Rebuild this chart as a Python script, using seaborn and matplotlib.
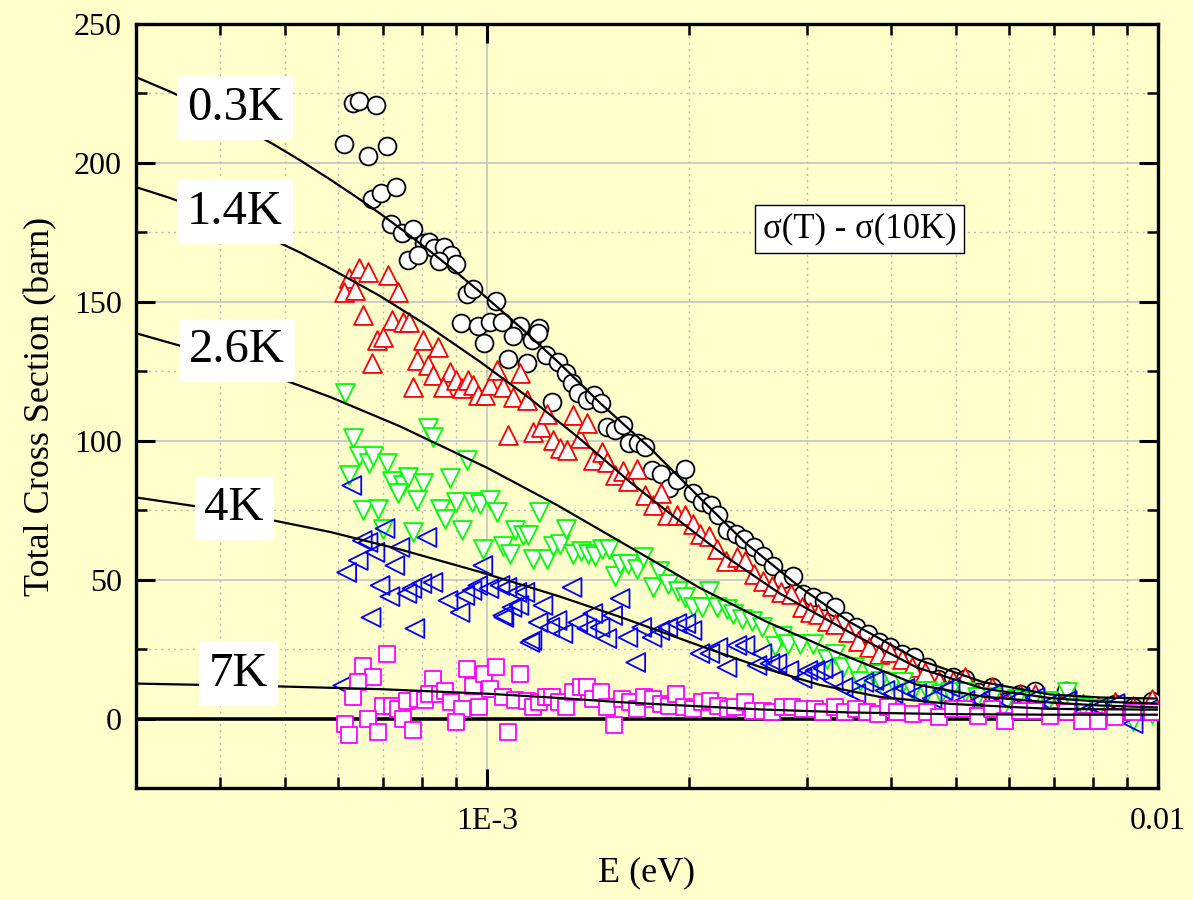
import matplotlib
matplotlib.use("Agg")
import matplotlib.pyplot as plt
import seaborn as sns
import numpy as np
import pandas as pd
from matplotlib.ticker import LogLocator, MultipleLocator, NullFormatter

# energies are in units of 1E-3 eV, cross sections in barn
e_03k = [0.632, 0.645, 0.683, 0.612, 0.664, 0.710, 0.674, 0.695, 0.732, 0.719, 0.747, 0.776,
         0.805, 0.819, 0.834, 0.863, 0.884, 0.763, 0.789, 0.848, 0.899, 0.933, 0.952, 1.031,
         0.915, 0.970, 1.010, 1.052, 1.120, 1.196, 0.990, 1.075, 1.147, 1.094, 1.168, 1.192,
         1.224, 1.276, 1.311, 1.339, 1.366, 1.409, 1.443, 1.478, 1.250, 1.509, 1.551, 1.594,
         1.627, 1.678, 1.719, 1.762, 1.816, 1.867, 1.919, 1.972, 2.028, 2.091, 2.157, 2.209,
         2.279, 2.350, 2.415, 2.500, 2.578, 2.668, 2.761, 2.857, 2.959, 3.061, 3.179, 3.303,
         3.422, 3.546, 3.696, 3.838, 3.986, 4.153, 4.326, 4.525, 4.698, 4.948, 5.156, 5.392,
         5.657, 5.916, 6.227, 6.556, 6.950, 7.29, 7.70, 8.14, 8.63, 9.18, 9.80]
s_03k = [221.5, 222.3, 220.8, 206.8, 202.4, 206.1, 187.0, 189.1, 191.3, 178.0, 174.7, 176.2,
         171.1, 171.5, 169.3, 169.7, 166.8, 165.0, 166.8, 164.6, 163.5, 152.7, 154.5, 150.2,
         142.3, 141.2, 142.7, 142.7, 141.2, 140.5, 135.1, 129.3, 127.9, 137.6, 136.2, 138.7,
         130.8, 128.2, 124.3, 120.7, 117.1, 114.6, 116.4, 113.5, 113.8, 104.8, 103.7, 105.5,
         99.1, 99.1, 97.6, 89.3, 87.9, 82.9, 85.7, 89.7, 81.1, 77.8, 76.7, 73.1,
         67.7, 66.6, 64.8, 61.6, 58.7, 55.1, 50.4, 51.2, 44.7, 43.6, 42.5, 40.0,
         35.3, 32.8, 30.6, 27.4, 25.6, 23.4, 22.0, 18.7, 14.4, 15.1, 14.4, 9.4,
         11.2, 5.8, 9.0, 10.1, 6.5, 10.1, 3.6, 3.6, 5.4, 4.0, 6.5]

e_14k = [0.623, 0.645, 0.665, 0.712, 0.612, 0.636, 0.737, 0.654, 0.722, 0.750, 0.765, 0.685,
         0.699, 0.803, 0.845, 0.674, 0.787, 0.816, 0.831, 0.776, 0.881, 0.860, 0.899, 0.918,
         0.937, 0.953, 0.969, 0.993, 1.010, 1.035, 1.056, 1.093, 1.120, 1.147, 1.075, 1.171,
         1.204, 1.229, 1.254, 1.285, 1.316, 1.343, 1.376, 1.409, 1.438, 1.483, 1.509, 1.551,
         1.594, 1.622, 1.672, 1.719, 1.767, 1.816, 1.854, 1.919, 1.972, 2.028, 2.077, 2.142,
         2.201, 2.272, 2.358, 2.424, 2.500, 2.578, 2.659, 2.742, 2.838, 2.949, 3.029, 3.113,
         3.211, 3.303, 3.450, 3.571, 3.708, 3.838, 3.986, 4.153, 4.298, 4.494, 4.715, 4.948,
         5.156, 5.392, 5.657, 5.957, 6.227, 6.556, 6.902, 7.32, 7.73, 8.14, 8.63, 9.18, 9.80]
s_14k = [158.5, 162.1, 160.7, 159.6, 153.5, 154.2, 153.5, 145.2, 143.4, 142.7, 142.7, 136.2,
         137.2, 136.2, 133.6, 127.9, 129.0, 127.2, 123.6, 119.2, 124.6, 119.2, 121.8, 118.9,
         121.8, 120.0, 116.4, 116.4, 120.0, 125.4, 119.2, 115.6, 124.3, 114.6, 101.9, 103.0,
         104.8, 109.5, 100.1, 97.3, 96.5, 109.1, 100.9, 106.3, 92.9, 95.8, 92.2, 87.5,
         89.0, 85.4, 89.7, 80.3, 76.7, 81.1, 73.1, 73.1, 73.1, 70.2, 66.3, 65.6,
         61.2, 56.9, 58.0, 56.9, 51.9, 49.4, 47.9, 45.4, 45.0, 40.3, 38.2, 37.8,
         35.3, 34.2, 31.0, 28.1, 25.6, 23.4, 23.8, 21.6, 18.4, 16.6, 13.7, 13.7,
         14.8, 9.0, 11.2, 5.4, 9.0, 9.0, 6.5, 9.0, 5.4, 4.0, 5.8, 4.7, 7.2]

e_26k = [0.614, 0.632, 0.645, 0.667, 0.676, 0.710, 0.623, 0.816, 0.831, 0.933, 0.722, 0.750,
         0.763, 0.737, 0.803, 0.881, 0.787, 0.654, 0.688, 0.851, 0.866, 0.899, 0.950, 0.976,
         1.010, 1.035, 1.196, 0.699, 0.776, 0.918, 0.986, 1.056, 1.082, 1.101, 1.131, 1.151,
         1.171, 1.229, 1.254, 1.285, 1.311, 1.343, 1.381, 1.414, 1.448, 1.483, 1.519, 1.551,
         1.579, 1.622, 1.672, 1.707, 1.767, 1.804, 1.860, 1.926, 1.972, 2.028, 2.091, 2.142,
         2.201, 2.279, 2.326, 2.399, 2.483, 2.569, 2.686, 2.752, 2.808, 2.927, 3.061, 3.211,
         3.303, 3.394, 3.521, 3.596, 3.760, 3.851, 4.027, 4.167, 4.312, 4.525, 4.748, 4.898,
         5.156, 5.374, 5.657, 5.875, 6.164, 6.489, 6.855, 7.32, 7.73, 8.14, 8.69, 9.18, 9.80]
s_26k = [117.1, 100.9, 94.4, 91.9, 94.4, 91.9, 87.5, 104.5, 101.2, 92.9, 85.4, 83.9,
         86.8, 81.1, 84.7, 86.5, 78.5, 74.9, 75.6, 75.6, 72.0, 77.8, 77.8, 77.4,
         78.5, 74.2, 74.2, 68.4, 67.0, 67.7, 61.2, 62.0, 59.1, 67.7, 65.9, 65.9,
         57.6, 57.6, 62.0, 63.0, 68.1, 59.4, 60.2, 59.1, 58.4, 60.9, 61.2, 51.5,
         55.8, 55.8, 54.0, 58.0, 47.2, 53.3, 48.6, 46.1, 43.6, 40.0, 40.0, 46.1,
         40.0, 39.6, 37.8, 36.0, 35.3, 32.8, 26.3, 29.9, 27.0, 27.0, 27.0, 21.6,
         23.4, 18.4, 18.4, 13.7, 16.2, 13.7, 13.0, 13.0, 10.1, 10.1, 9.0, 9.4,
         9.4, 7.6, 7.6, 4.0, 7.2, 6.5, 6.5, 9.4, 4.0, 3.6, 4.0, -0.7, 1.8]

e_4k = [0.629, 0.705, 0.814, 0.652, 0.665, 0.681, 0.742, 0.643, 0.729, 0.618, 0.986, 0.693,
        0.717, 0.760, 0.773, 0.800, 0.831, 0.875, 0.927, 0.950, 0.969, 1.007, 1.071, 1.108,
        1.139, 0.912, 0.672, 0.781, 1.056, 1.090, 1.212, 1.339, 1.579, 1.192, 1.272, 1.298,
        1.366, 1.438, 1.474, 1.539, 1.509, 1.159, 0.610, 1.046, 1.116, 1.060, 1.241, 1.167,
        1.409, 1.622, 1.701, 1.762, 1.810, 1.860, 1.919, 1.979, 2.021, 1.666, 2.077, 2.149,
        2.209, 2.279, 2.358, 2.424, 2.526, 2.569, 2.641, 2.705, 2.818, 2.949, 3.008, 3.082,
        3.168, 3.280, 3.394, 3.546, 3.646, 3.773, 3.918, 4.027, 4.196, 4.371, 4.605, 4.782,
        4.898, 5.156, 5.429, 5.677, 5.916, 6.227, 6.556, 6.902, 7.32, 7.73, 8.14, 8.63, 9.18, 9.80]
s_4k = [83.9, 68.4, 65.2, 64.1, 63.4, 59.8, 61.6, 56.9, 55.1, 52.6, 55.1, 47.9,
        43.9, 45.0, 46.8, 48.6, 49.0, 42.5, 44.3, 46.1, 47.9, 46.8, 47.2, 45.4,
        45.4, 38.2, 36.4, 32.4, 37.1, 40.0, 40.7, 47.2, 43.2, 34.6, 35.3, 30.6,
        34.6, 37.8, 32.8, 37.1, 28.8, 27.4, 11.9, 47.9, 40.7, 36.4, 32.8, 28.1,
        32.4, 29.2, 32.8, 29.2, 31.7, 32.8, 34.2, 34.2, 31.7, 20.2, 23.4, 23.4,
        25.6, 18.4, 26.3, 26.3, 19.1, 23.4, 19.8, 19.8, 17.3, 14.4, 17.3, 17.3,
        18.0, 13.7, 11.2, 9.0, 13.0, 13.7, 10.1, 9.0, 10.8, 9.0, 7.2, 10.1,
        11.2, 6.5, 6.5, 9.0, 6.5, 7.6, 7.6, 5.4, 6.5, 2.2, 4.0, 5.4, -1.8, 4.0]

e_7k = [0.710, 0.654, 0.676, 0.643, 0.632, 0.699, 0.722, 0.737, 0.760, 0.789, 0.808, 0.831,
        0.819, 0.851, 0.866, 0.884, 0.918, 0.933, 0.953, 0.990, 1.031, 1.010, 0.973, 1.056,
        1.101, 1.120, 1.147, 1.171, 1.196, 1.224, 1.250, 1.281, 1.311, 1.343, 1.381, 1.409,
        1.438, 1.478, 1.509, 1.589, 0.614, 0.623, 0.665, 0.688, 0.750, 0.776, 0.899, 1.075,
        1.546, 1.633, 1.672, 1.713, 1.767, 1.816, 1.867, 1.913, 1.966, 2.028, 2.091, 2.149,
        2.209, 2.287, 2.342, 2.424, 2.491, 2.578, 2.659, 2.761, 2.848, 2.959, 3.082, 3.168,
        3.303, 3.422, 3.546, 3.683, 3.825, 3.958, 4.084, 4.312, 4.525, 4.715, 4.948, 5.156,
        5.392, 5.657, 5.916, 6.227, 6.556, 6.902, 7.32, 7.70, 8.14, 8.63, 9.18, 9.80]
s_7k = [23.4, 19.1, 15.1, 13.0, 7.6, 4.7, 4.7, 3.6, 6.5, 7.2, 6.8, 14.4,
        9.0, 9.0, 10.1, 5.8, 3.6, 17.7, 11.9, 16.2, 18.4, 10.8, 4.0, 7.6,
        6.8, 15.9, 6.5, 4.3, 6.1, 7.6, 7.6, 5.8, 4.0, 9.4, 11.5, 11.2,
        7.2, 9.4, 4.0, 7.2, -1.8, -5.8, 0.0, -4.7, 0.0, -4.0, -1.1, -5.0,
        -2.2, 5.8, 3.6, 7.6, 7.2, 5.4, 4.7, 9.0, 4.0, 3.6, 5.8, 6.5,
        4.7, 3.6, 4.0, 5.8, 2.9, 2.9, 2.2, 4.0, 4.0, 3.6, 3.6, 2.2,
        4.0, 2.2, 3.6, 2.2, 1.8, 4.0, 2.2, 1.8, 2.2, 0.4, 3.6, 3.6,
        1.1, 3.6, -0.7, 2.9, 2.9, 1.1, 2.2, -0.7, -0.7, 0.4, 2.2, 2.2]

# fitted curves
fit_e_03k = [0.300, 0.337, 0.3735, 0.4224, 0.480, 0.5264, 0.5834, 0.6357, 0.693, 0.7548,
             0.822, 0.896, 0.976, 1.127, 1.285, 1.474, 1.750, 2.077, 2.421, 2.927, 3.475,
             4.37, 5.49, 6.90, 8.20, 10.0]
fit_s_03k = [230.9, 225.7, 220.7, 214.2, 206.8, 201.0, 194.1, 188.1, 181.8, 175.2,
             168.3, 161.1, 153.6, 140.4, 127.7, 113.6, 97.4, 79.4, 63.5, 47.3, 34.7,
             21.4, 13.1, 8.7, 7.6, 7.2]
fit_e_14k = [0.300, 0.337, 0.3735, 0.4224, 0.4866, 0.5264, 0.5834, 0.693, 0.817, 0.976,
             1.159, 1.376, 1.633, 1.939, 2.279, 2.733, 3.475, 4.37, 5.49, 6.90, 8.20, 10.0]
fit_s_14k = [191.3, 187.4, 183.4, 178.3, 171.7, 167.8, 162.1, 152.1, 141.3, 128.5,
             115.2, 100.7, 85.2, 71.0, 58.0, 45.0, 31.0, 18.4, 10.8, 7.4, 6.1, 5.4]
fit_e_26k = [0.300, 0.3735, 0.4589, 0.5834, 0.742, 1.0, 1.271, 1.633, 2.077, 2.614, 3.280,
             4.37, 5.49, 6.90, 8.20, 10.0]
fit_s_26k = [138.7, 132.2, 125.1, 115.8, 105.2, 90.3, 76.9, 61.7, 47.0, 34.8, 24.4,
             12.2, 7.9, 5.8, 4.7, 4.0]
fit_e_4k = [0.300, 0.3735, 0.4589, 0.5834, 0.742, 0.976, 1.285, 1.579, 2.077, 2.552, 3.135,
            3.851, 4.898, 6.90, 10.0]
fit_s_4k = [79.6, 76.2, 72.3, 67.2, 60.9, 52.8, 43.9, 36.6, 26.2, 18.6, 12.1,
            7.8, 5.3, 3.5, 3.2]
fit_e_7k = [0.300, 0.4866, 0.693, 1.010, 1.285, 1.579, 2.077, 2.552, 3.475, 4.898, 6.90, 10.0]
fit_s_7k = [12.6, 11.6, 10.6, 8.9, 7.4, 5.9, 4.4, 3.3, 2.2, 1.6, 1.4, 1.4]

temps = ["0.3K", "1.4K", "2.6K", "4K", "7K"]
points = [(e_03k, s_03k), (e_14k, s_14k), (e_26k, s_26k), (e_4k, s_4k), (e_7k, s_7k)]
fits = [(fit_e_03k, fit_s_03k), (fit_e_14k, fit_s_14k), (fit_e_26k, fit_s_26k),
        (fit_e_4k, fit_s_4k), (fit_e_7k, fit_s_7k)]

df = pd.concat([pd.DataFrame({"T": t, "E": np.array(e) * 1e-3, "sigma": s})
                for t, (e, s) in zip(temps, points)])
fit_df = pd.concat([pd.DataFrame({"T": t, "E": np.array(e) * 1e-3, "sigma": s})
                    for t, (e, s) in zip(temps, fits)])

bg = "#FFFFCC"
sns.set_style("ticks")
plt.rcParams["font.family"] = ["Liberation Serif", "DejaVu Serif"]
plt.rcParams["text.color"] = "black"
plt.rcParams["axes.labelcolor"] = "black"

fig = plt.figure(figsize=(11.93, 9), dpi=100, facecolor=bg)
ax = fig.add_axes([0.114, 0.1244, 0.8567, 0.8489])
ax.set_facecolor(bg)
ax.set_xscale("log")

marker_styles = {
    "0.3K": dict(marker="o", s=165, facecolor="white", edgecolor="black"),
    "1.4K": dict(marker="^", s=185, facecolor="white", edgecolor="#FF0000"),
    "2.6K": dict(marker="v", s=185, facecolor="white", edgecolor="#00FF00"),
    "4K": dict(marker="<", s=185, facecolor="none", edgecolor="#0000FF"),
    "7K": dict(marker="s", s=125, facecolor="white", edgecolor="#FF00FF"),
}

ax.axhline(0, color="black", lw=2.6, zorder=2)

for t in temps:
    sns.scatterplot(data=df[df["T"] == t], x="E", y="sigma", linewidth=1.3,
                    ax=ax, zorder=3, legend=False, **marker_styles[t])

for t in temps:
    sns.lineplot(data=fit_df[fit_df["T"] == t], x="E", y="sigma", color="black",
                 linewidth=1.6, estimator=None, sort=False, ax=ax, zorder=4)

ax.set_xlim(3.0e-4, 1e-2)
ax.set_ylim(-25, 250)
ax.set_xticks([1e-3, 1e-2])
ax.set_xticklabels(["1E-3", "0.01"])
ax.xaxis.set_minor_locator(LogLocator(base=10, subs=np.arange(2, 10)))
ax.xaxis.set_minor_formatter(NullFormatter())
ax.set_yticks(np.arange(0, 251, 50))
ax.yaxis.set_minor_locator(MultipleLocator(25))

ax.tick_params(which="major", direction="in", length=14, width=2.2, top=True, right=True,
               labelsize=23, pad=10, colors="black")
ax.tick_params(which="minor", direction="in", length=8, width=1.8, top=True, right=True,
               colors="black")
ax.tick_params(axis="x", which="major", pad=14)

ax.grid(which="major", color="#C2C2CC", lw=1.2, ls="-")
ax.grid(which="minor", color="#B8B8B8", lw=1.0, ls=(0, (1.5, 3)))
ax.set_axisbelow(True)

for sp in ax.spines.values():
    sp.set_linewidth(2.4)
    sp.set_color("black")

ax.set_xlabel("E (eV)", fontsize=26, labelpad=14)
ax.set_ylabel("Total Cross Section (barn)", fontsize=26, labelpad=12)

label_pos = {"0.3K": (0.097, 0.890), "1.4K": (0.097, 0.754), "2.6K": (0.099, 0.573),
             "4K": (0.096, 0.366), "7K": (0.100, 0.149)}
for t in temps:
    x, y = label_pos[t]
    ax.text(x, y, t, transform=ax.transAxes, ha="center", va="center", fontsize=35,
            zorder=6, bbox=dict(boxstyle="square,pad=0.2", facecolor="white", edgecolor="none"))

ax.text(0.708, 0.732, "σ(T) - σ(10K)", transform=ax.transAxes, ha="center", va="center",
        fontsize=25, zorder=6,
        bbox=dict(boxstyle="square,pad=0.22", facecolor="white", edgecolor="black", lw=1.0))

fig.savefig("out.png", dpi=100, facecolor=bg)
